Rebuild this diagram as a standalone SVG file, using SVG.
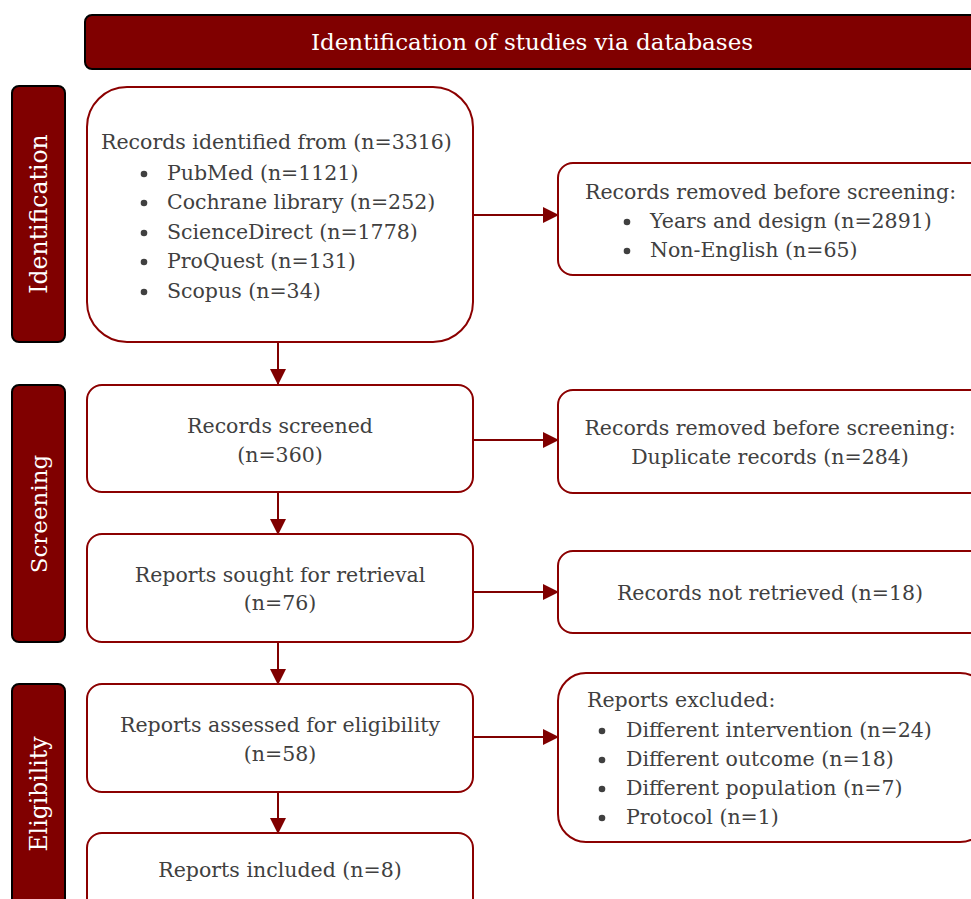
<svg xmlns="http://www.w3.org/2000/svg" width="971" height="899" viewBox="0 0 971 899">
<defs>
<style>
.bar{fill:#800000;stroke:#000;stroke-width:2}
.box{fill:#fff;stroke:#8b0000;stroke-width:2}
.t{font-family:"DejaVu Serif","Liberation Serif",serif;font-size:20.5px;fill:#404040}
.c{text-anchor:middle}
.w{font-family:"DejaVu Serif","Liberation Serif",serif;fill:#fff;text-anchor:middle}
.b{fill:#404040}
.ln{stroke:#800000;stroke-width:2;fill:none}
</style>
<marker id="ah" markerWidth="16" markerHeight="16" refX="15" refY="8" orient="auto" markerUnits="userSpaceOnUse" viewBox="0 0 16 16">
<path d="M0,0 L16,8 L0,16 z" fill="#800000"/>
</marker>
</defs>
<rect width="971" height="899" fill="#fff"/>

<g id="header">
<rect class="bar" x="85" y="15" width="900" height="54" rx="7"/>
<text class="w" x="532" y="50" font-size="23">Identification of studies via databases</text>
</g>

<g id="phase-identification">
<rect class="bar" x="12" y="86" width="53" height="256" rx="7"/>
<text class="w" font-size="23.5" transform="translate(47,214) rotate(-90)">Identification</text>
</g>
<g id="phase-screening">
<rect class="bar" x="12" y="385" width="53" height="257" rx="7"/>
<text class="w" font-size="23" transform="translate(47,514) rotate(-90)">Screening</text>
</g>
<g id="phase-eligibility">
<rect class="bar" x="12" y="684" width="53" height="230" rx="7"/>
<text class="w" font-size="23.5" transform="translate(47,794) rotate(-90)">Eligibility</text>
</g>

<g id="connectors">
<line class="ln" x1="278" y1="342" x2="278" y2="384" marker-end="url(#ah)"/>
<line class="ln" x1="278" y1="492" x2="278" y2="534" marker-end="url(#ah)"/>
<line class="ln" x1="278" y1="642" x2="278" y2="684" marker-end="url(#ah)"/>
<line class="ln" x1="278" y1="792" x2="278" y2="833" marker-end="url(#ah)"/>
<line class="ln" x1="473" y1="215" x2="558" y2="215" marker-end="url(#ah)"/>
<line class="ln" x1="473" y1="440" x2="558" y2="440" marker-end="url(#ah)"/>
<line class="ln" x1="473" y1="592" x2="558" y2="592" marker-end="url(#ah)"/>
<line class="ln" x1="473" y1="737" x2="558" y2="737" marker-end="url(#ah)"/>
</g>

<g id="records-identified">
<rect class="box" x="87" y="87" width="386" height="255" rx="40"/>
<text class="t" x="101" y="149">Records identified from (n=3316)</text>
<circle class="b" cx="144" cy="174" r="3.3"/><text class="t" x="167" y="180">PubMed (n=1121)</text>
<circle class="b" cx="144" cy="203" r="3.3"/><text class="t" x="167" y="209">Cochrane library (n=252)</text>
<circle class="b" cx="144" cy="233" r="3.3"/><text class="t" x="167" y="239">ScienceDirect (n=1778)</text>
<circle class="b" cx="144" cy="262" r="3.3"/><text class="t" x="167" y="268">ProQuest (n=131)</text>
<circle class="b" cx="144" cy="292" r="3.3"/><text class="t" x="167" y="298">Scopus (n=34)</text>
</g>

<g id="removed-1">
<rect class="box" x="558" y="163" width="430" height="112" rx="15"/>
<text class="t" x="585" y="199">Records removed before screening:</text>
<circle class="b" cx="627" cy="222" r="3.3"/><text class="t" x="650" y="228">Years and design (n=2891)</text>
<circle class="b" cx="627" cy="251" r="3.3"/><text class="t" x="650" y="257">Non-English (n=65)</text>
</g>

<g id="records-screened">
<rect class="box" x="87" y="385" width="386" height="107" rx="15"/>
<text class="t c" x="280" y="433">Records screened</text>
<text class="t c" x="280" y="462">(n=360)</text>
</g>

<g id="removed-2">
<rect class="box" x="558" y="390" width="430" height="103" rx="15"/>
<text class="t c" x="770" y="435">Records removed before screening:</text>
<text class="t c" x="770" y="464">Duplicate records (n=284)</text>
</g>

<g id="reports-sought">
<rect class="box" x="87" y="534" width="386" height="108" rx="15"/>
<text class="t c" x="280" y="582">Reports sought for retrieval</text>
<text class="t c" x="280" y="610">(n=76)</text>
</g>

<g id="not-retrieved">
<rect class="box" x="558" y="551" width="430" height="82" rx="15"/>
<text class="t c" x="770" y="600">Records not retrieved (n=18)</text>
</g>

<g id="reports-assessed">
<rect class="box" x="87" y="684" width="386" height="108" rx="15"/>
<text class="t c" x="280" y="732">Reports assessed for eligibility</text>
<text class="t c" x="280" y="761">(n=58)</text>
</g>

<g id="reports-excluded">
<rect class="box" x="558" y="673" width="430" height="169" rx="28"/>
<text class="t" x="587" y="707">Reports excluded:</text>
<circle class="b" cx="602" cy="731" r="3.3"/><text class="t" x="626" y="737">Different intervention (n=24)</text>
<circle class="b" cx="602" cy="760" r="3.3"/><text class="t" x="626" y="766">Different outcome (n=18)</text>
<circle class="b" cx="602" cy="789" r="3.3"/><text class="t" x="626" y="795">Different population (n=7)</text>
<circle class="b" cx="602" cy="818" r="3.3"/><text class="t" x="626" y="824">Protocol (n=1)</text>
</g>

<g id="reports-included">
<rect class="box" x="87" y="833" width="386" height="90" rx="15"/>
<text class="t c" x="280" y="877">Reports included (n=8)</text>
</g>
</svg>
